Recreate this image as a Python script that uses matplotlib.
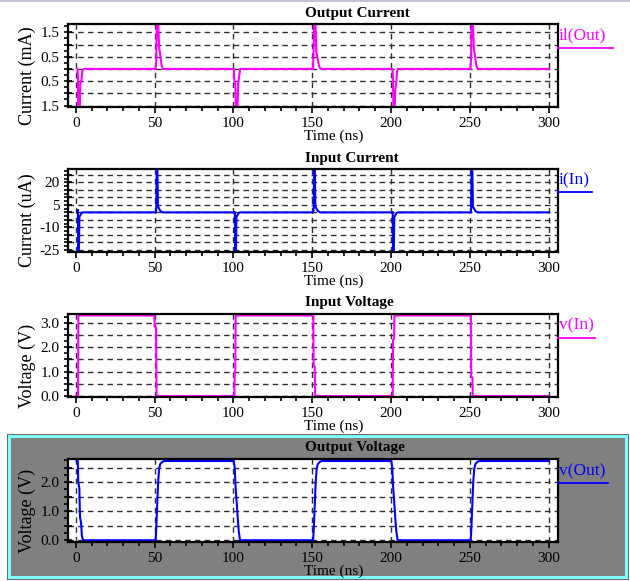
import matplotlib
matplotlib.use("Agg")
import matplotlib.pyplot as plt
from matplotlib.patches import Rectangle
from matplotlib.lines import Line2D
from matplotlib.ticker import MultipleLocator

plt.rcParams['font.family'] = ['Liberation Serif', 'DejaVu Serif']

# ---- data (time in ns) ----
t_iout = [1.0, 1.3, 1.6, 2.4, 2.8, 3.5, 4.2, 5.0,
          50.6, 51.0, 51.4, 52.2, 52.8, 53.6, 54.4, 55.2,
          100.3, 100.6, 101.2, 101.6, 102.4, 103.0, 103.6, 104.3,
          150.5, 150.9, 151.3, 152.0, 152.6, 153.5, 154.4, 155.4,
          200.9, 201.2, 201.7, 202.1, 202.8, 203.3, 203.8, 204.4,
          250.4, 250.8, 251.2, 252.0, 252.6, 253.4, 254.3, 255.2,
          300.0]
i_out = [0.0, -0.3, -2.4, -2.0, -0.6, -0.45, -0.05, 0.0,
         0.0, 0.3, 2.2, 2.0, 0.9, 0.55, 0.15, 0.0,
         0.0, -0.5, -0.6, -2.3, -2.0, -0.6, -0.3, 0.0,
         0.0, 0.8, 2.2, 2.0, 0.7, 0.4, 0.1, 0.0,
         0.0, -0.3, -2.3, -2.0, -0.8, -0.6, -0.1, 0.0,
         0.0, 0.4, 2.2, 2.0, 0.8, 0.5, 0.1, 0.0,
         0.0]

t_iin = [1.0, 1.3, 1.5, 1.9, 2.2, 2.8, 3.5, 4.5,
         50.7, 51.0, 51.3, 51.7, 52.1, 52.8, 53.6, 55.0,
         100.6, 100.9, 101.1, 101.5, 101.9, 102.5, 103.2, 104.2,
         150.6, 150.9, 151.2, 151.6, 152.0, 152.7, 153.5, 155.0,
         200.8, 201.1, 201.3, 201.7, 202.1, 202.7, 203.4, 204.4,
         250.6, 250.9, 251.2, 251.6, 252.0, 252.7, 253.5, 255.0,
         300.0]
i_in = [0.0, 2.0, -30.0, -30.0, -3.0, -2.0, -0.5, 0.0,
        0.0, 2.0, 30.0, 30.0, 4.0, 2.5, 1.0, 0.0,
        0.0, 0.5, -30.0, -30.0, -3.0, -2.0, -0.5, 0.0,
        0.0, 2.0, 30.0, 30.0, 4.0, 2.5, 1.0, 0.0,
        0.0, 0.5, -30.0, -30.0, -3.0, -2.0, -0.5, 0.0,
        0.0, 2.0, 30.0, 30.0, 4.0, 2.5, 1.0, 0.0,
        0.0]

t_vin = [0.0, 1.4, 1.6, 49.8, 50.0, 50.9, 51.2,
         100.6, 100.8, 101.2, 101.4, 150.7, 150.9, 151.6, 151.9,
         201.1, 201.3, 202.0, 202.2, 250.7, 250.9, 251.7, 251.9, 300.0]
v_in = [0.0, 0.0, 3.3, 3.3, 2.85, 2.8, 0.0,
        0.0, 1.0, 1.05, 3.3, 3.3, 1.25, 1.2, 0.0,
        0.0, 2.3, 2.35, 3.3, 3.3, 0.8, 0.75, 0.0, 0.0]

t_vout = [0.5, 1.2, 1.5, 2.2, 2.6, 3.3, 3.8, 4.6,
          50.6, 51.0, 51.6, 52.2, 52.8, 53.5, 54.8, 56.0,
          100.2, 100.8, 101.4, 102.2, 102.8, 103.4, 104.2,
          150.6, 151.0, 151.6, 152.2, 152.8, 153.5, 154.8, 156.0,
          200.2, 200.8, 201.4, 202.2, 202.8, 203.4, 204.2,
          250.6, 251.0, 251.6, 252.2, 252.8, 253.5, 254.8, 256.0,
          300.0]
v_out = [2.73, 2.73, 2.0, 1.8, 0.8, 0.6, 0.15, 0.0,
         0.0, 0.4, 1.2, 2.0, 2.45, 2.62, 2.70, 2.73,
         2.73, 2.5, 1.8, 1.2, 0.7, 0.3, 0.0,
         0.0, 0.4, 1.2, 2.0, 2.45, 2.62, 2.70, 2.73,
         2.73, 2.5, 1.8, 1.2, 0.7, 0.3, 0.0,
         0.0, 0.4, 1.2, 2.0, 2.45, 2.62, 2.70, 2.73,
         2.73]

x_ticks = [0, 50, 100, 150, 200, 250, 300]

panels = [
    # title, ylabel, legend, color, t, y, ylim, ystep, labelled ticks
    ("Output Current", "Current (mA)", "il(Out)", "#ff00ff", t_iout, i_out,
     (-1.56, 1.84), 0.5, {1.5: "1.5", 0.5: "0.5", -0.5: "0.5", -1.5: "1.5"}),
    ("Input Current", "Current (uA)", "i(In)", "#0000ff", t_iin, i_in,
     (-26.5, 29.0), 5, {20: "20", 5: "5", -10: "-10", -25: "-25"}),
    ("Input Voltage", "Voltage (V)", "v(In)", "#ff00ff", t_vin, v_in,
     (-0.04, 3.36), 0.5, {3.0: "3.0", 2.0: "2.0", 1.0: "1.0", 0.0: "0.0"}),
    ("Output Voltage", "Voltage (V)", "v(Out)", "#0000ff", t_vout, v_out,
     (-0.06, 2.8), 0.5, {2.0: "2.0", 1.0: "1.0", 0.0: "0.0"}),
]

W, H = 630, 581
fig = plt.figure(figsize=(W / 100, H / 100), dpi=100)
fig.patch.set_facecolor('white')

def fx(x):
    return x / W

def fy(y):
    return 1 - y / H

# top hairline and the highlighted (selected) last panel
fig.add_artist(Line2D([0, 1], [fy(0.5), fy(0.5)], color='#c4c4d4', lw=1.5, zorder=-2))
fig.add_artist(Rectangle((fx(7), fy(580)), fx(622), 146 / H, transform=fig.transFigure,
                         facecolor='#6a6a6a', edgecolor='none', zorder=-3))
fig.add_artist(Rectangle((fx(8), fy(579)), fx(620), 144 / H, transform=fig.transFigure,
                         facecolor='#7fffff', edgecolor='none', zorder=-2))
fig.add_artist(Rectangle((fx(11), fy(576)), fx(614), 138 / H, transform=fig.transFigure,
                         facecolor='#808080', edgecolor='none', zorder=-1))

tops = [24, 169, 314, 459]
left, right, height = 68, 558, 83
title_y = [13, 158, 303, 448]
legend_y = [35, 180, 325, 471]
under_y = [48, 192, 338, 483]
under_end = [613, 592, 595, 608]

for k, (title, ylab, leg, color, t, y, ylim, ystep, labels) in enumerate(panels):
    top = tops[k]
    ax = fig.add_axes([fx(left), fy(top + height), (right - left) / W, height / H])
    ax.set_facecolor('white')
    ax.plot(t, y, color=color, lw=1.5, solid_joinstyle='miter', clip_on=True)
    ax.set_xlim(-5, 306)
    ax.set_ylim(*ylim)

    ax.set_xticks(x_ticks)
    ax.set_xticklabels([str(v) for v in x_ticks], fontsize=11)
    ax.xaxis.set_minor_locator(MultipleLocator(10))
    ax.tick_params(axis='x', which='major', direction='out', length=4, width=1.2, pad=3)
    ax.tick_params(axis='x', which='minor', direction='out', length=3, width=1.2)

    lo = round(ylim[0] / ystep + 0.5) * ystep
    yt = []
    v = lo
    while v <= ylim[1] + 1e-9:
        yt.append(round(v, 3))
        v += ystep
    ax.set_yticks(yt)
    ax.set_yticklabels([labels.get(v, "") for v in yt], fontsize=11)
    ax.yaxis.set_minor_locator(MultipleLocator(ystep / 2))
    ax.tick_params(axis='y', which='major', direction='inout', length=6, width=1.2, pad=3)
    ax.tick_params(axis='y', which='minor', direction='out', length=3, width=1.2)

    ax.grid(True, which='major', color='#303030', lw=1.0, linestyle=(0, (4, 3)))
    for s in ax.spines.values():
        s.set_linewidth(1.6)

    fig.text(fx(305), fy(title_y[k]), title, fontsize=11, fontweight='bold',
             ha='left', va='center')
    fig.text(fx(304), fy(top + height + 29), "Time (ns)", fontsize=11,
             ha='left', va='center')
    fig.text(fx(27), fy(top + height / 2 + 10), ylab, fontsize=13, rotation=90,
             ha='center', va='center')
    fig.text(fx(559), fy(legend_y[k]), leg, fontsize=12.5, color=color,
             ha='left', va='center')
    fig.add_artist(Line2D([fx(558), fx(under_end[k])], [fy(under_y[k]), fy(under_y[k])],
                          color=color, lw=1.3))

plt.savefig('out.png', dpi=100)
